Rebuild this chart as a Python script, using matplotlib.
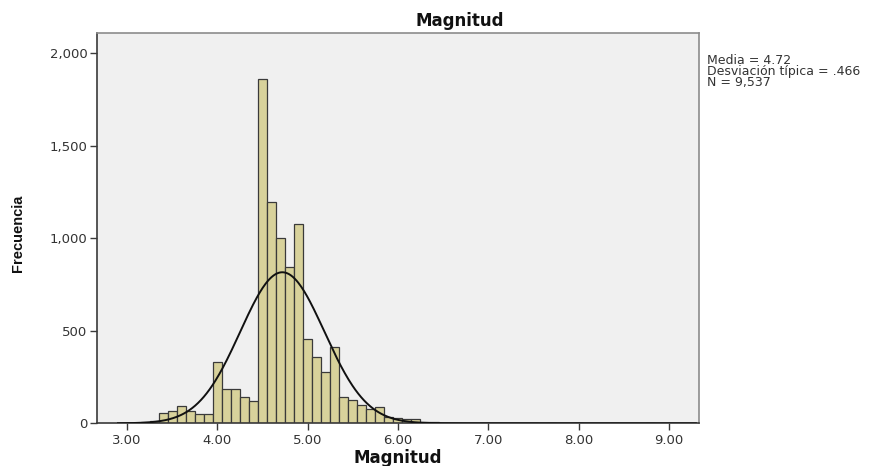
import matplotlib
matplotlib.use('Agg')
import matplotlib.pyplot as plt
import matplotlib.ticker as mticker
import numpy as np

# Histogram of earthquake magnitudes (bins 0.1 wide, centred on x.x)
bin_centers = [3.1, 3.2, 3.3, 3.4, 3.5, 3.6, 3.7, 3.8, 3.9,
               4.0, 4.1, 4.2, 4.3, 4.4, 4.5, 4.6, 4.7, 4.8, 4.9,
               5.0, 5.1, 5.2, 5.3, 5.4, 5.5, 5.6, 5.7, 5.8, 5.9,
               6.0, 6.1, 6.2, 6.3, 6.4, 6.5, 6.6, 6.7, 6.8, 6.9,
               7.0, 7.1, 7.2, 7.3, 7.5, 7.7, 8.0, 8.4, 8.8]
counts = [2, 5, 15, 58, 67, 96, 68, 52, 52,
          333, 184, 184, 144, 119, 1860, 1198, 1004, 843, 1076,
          454, 359, 279, 412, 142, 124, 97, 80, 86, 32,
          30, 21, 23, 5, 8, 4, 3, 2, 3, 2,
          2, 1, 1, 1, 1, 1, 1, 1, 1]
bin_width = 0.1

media = 4.72
desv = 0.466
n_total = 9537

x_ticks = [3, 4, 5, 6, 7, 8, 9]
y_ticks = [0, 500, 1000, 1500, 2000]

BAR = '#D8D29B'
EDGE = '#3A3A3A'
PANEL = '#F0F0F0'
TXT = '#333333'

fig = plt.figure(figsize=(8.82, 4.66), dpi=100)
fig.patch.set_facecolor('white')
ax = fig.add_axes([0.1103, 0.0916, 0.6820, 0.8370])
ax.set_facecolor(PANEL)

ax.bar(bin_centers, counts, width=bin_width, color=BAR, edgecolor=EDGE,
       linewidth=0.9, zorder=2)

# fitted normal curve
xs = np.linspace(2.9, 9.3, 600)
ys = n_total * bin_width / (desv * np.sqrt(2 * np.pi)) * np.exp(-0.5 * ((xs - media) / desv) ** 2)
ax.plot(xs, ys, color='#111111', linewidth=1.4, zorder=3)

ax.set_xlim(2.671, 9.332)
ax.set_ylim(0, 2108)
ax.set_xticks(x_ticks)
ax.set_yticks(y_ticks)
ax.xaxis.set_major_formatter(mticker.FuncFormatter(lambda v, _: f'{v:.2f}'))
ax.yaxis.set_major_formatter(mticker.FuncFormatter(lambda v, _: f'{v:,.0f}'))
ax.tick_params(axis='both', direction='out', length=5, width=1, color=EDGE,
               labelsize=9.5, labelcolor=TXT)
ax.tick_params(axis='x', pad=3)
ax.tick_params(axis='y', pad=2)

ax.spines['left'].set_color(EDGE)
ax.spines['bottom'].set_color(EDGE)
ax.spines['top'].set_color('#8C8C8C')
ax.spines['right'].set_color('#8C8C8C')
for s in ax.spines.values():
    s.set_linewidth(1.2)

fig.text(460 / 882, 1 - 12 / 466, 'Magnitud', fontsize=12, fontweight='bold',
         color='#111111', ha='center', va='top')
ax.set_xlabel('Magnitud', fontsize=12, fontweight='bold', color='#111111')
ax.xaxis.set_label_coords(0.5, -0.066)
ax.set_ylabel('Frecuencia', fontsize=10.5, fontweight='bold',
              family=['Liberation Sans Narrow', 'Liberation Sans'],
              color='#111111')
ax.yaxis.set_label_coords(-0.12, 0.488)

fig.text(707 / 882, 1 - 54 / 466,
         f'Media = {media:.2f}\nDesviación típica = .466\nN = {n_total:,}',
         fontsize=9, color=TXT, ha='left', va='top', linespacing=0.78)

fig.savefig('out.png', dpi=100, facecolor='white')
plt.close(fig)
